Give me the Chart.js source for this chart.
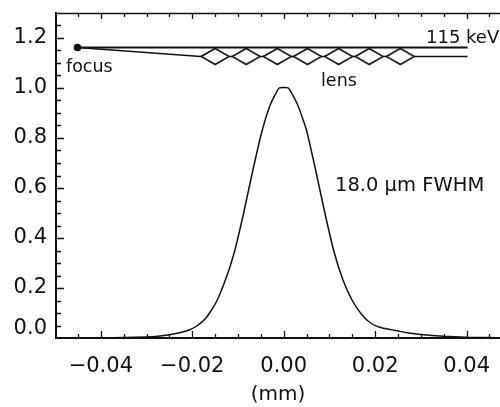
<!DOCTYPE html>
<html>
<head>
<meta charset="utf-8">
<script src="https://cdn.jsdelivr.net/npm/chart.js@4.4.1/dist/chart.umd.min.js"></script>
<style>
html,body{margin:0;padding:0;background:#fff;}
</style>
</head>
<body>
<canvas id="myChart" width="500" height="407"></canvas>
<script>
// focal spot profile, position in mm vs normalised intensity
let posMm=[-0.050,-0.040,-0.035,-0.030,-0.027,-0.025,-0.023,-0.021,-0.019,-0.017,-0.015,-0.013,-0.011,-0.009,-0.007,-0.005,-0.003,-0.001,
  0.001,0.003,0.005,0.007,0.009,0.011,0.013,0.015,0.017,0.019,0.021,0.023,0.025,0.027,0.030,0.035,0.040,0.047];
let intensity=[0.000,0.001,0.002,0.004,0.008,0.013,0.020,0.030,0.048,0.080,0.135,0.220,0.330,0.480,0.650,0.810,0.930,1.000,
  1.000,0.935,0.830,0.670,0.500,0.345,0.230,0.150,0.095,0.060,0.043,0.035,0.028,0.021,0.014,0.007,0.003,0.001];

// beam sketch above the profile
let beamX=[-0.0451,0.0402];
let beamY=[1.162,1.162];
let lensLineX=[-0.0451,-0.0181,0.0402];
let lensLineY=[1.162,1.126,1.126];
let lensX=[-0.0150,-0.0082,-0.0014,0.0052,0.0120,0.0187,0.0255];
let lensY=[1.126,1.126,1.126,1.126,1.126,1.126,1.126];
let focusX=[-0.0451];
let focusY=[1.162];

let xTicks=[-0.04,-0.02,0.00,0.02,0.04];
let yTicks=[0.0,0.2,0.4,0.6,0.8,1.0,1.2];

let ink='#111';
let tickFont={family:'"DejaVu Sans"',size:21};

function pts(xs,ys){return xs.map((x,i)=>({x:x,y:ys[i]}));}

// lens element drawn as a flat diamond
let lensImg=document.createElement('canvas');
lensImg.width=30; lensImg.height=19;
let lc=lensImg.getContext('2d');
lc.beginPath();
lc.moveTo(1,9.5); lc.lineTo(15,1.5); lc.lineTo(29,9.5); lc.lineTo(15,17.5); lc.closePath();
lc.fillStyle='#fff'; lc.fill();
lc.lineWidth=1.6; lc.strokeStyle=ink; lc.stroke();

let frame={
  id:'frame',
  afterDraw(chart){
    let ctx=chart.ctx, a=chart.chartArea;
    let xs=chart.scales.x, ys=chart.scales.y;
    ctx.save();
    ctx.strokeStyle=ink;
    ctx.lineWidth=1.5;
    ctx.beginPath();
    ctx.moveTo(a.left,a.top+0.5); ctx.lineTo(a.right,a.top+0.5);
    ctx.stroke();
    ctx.lineWidth=1.3;
    ctx.beginPath();
    for(let v=-0.045;v<0.047;v+=0.005){
      let px=Math.round(xs.getPixelForValue(v))+0.5;
      let major=xTicks.some(t=>Math.abs(t-v)<1e-6);
      ctx.moveTo(px,a.bottom); ctx.lineTo(px,a.bottom-(major?7:4));
      ctx.moveTo(px,a.top); ctx.lineTo(px,a.top+(major?6:4));
    }
    for(let v=0.05;v<1.3;v+=0.05){
      let py=Math.round(ys.getPixelForValue(v))+0.5;
      let major=yTicks.some(t=>Math.abs(t-v)<1e-6);
      ctx.moveTo(a.left,py); ctx.lineTo(a.left+(major?8:5),py);
    }
    ctx.stroke();

    ctx.fillStyle=ink;
    ctx.textBaseline='middle';
    ctx.textAlign='right';
    ctx.font='21px "DejaVu Sans"';
    ctx.fillText('0.0',a.left-9,ys.getPixelForValue(0)-9);

    ctx.textAlign='left';
    ctx.textBaseline='alphabetic';
    ctx.font='17.5px "DejaVu Sans"';
    ctx.fillText('focus',66,72);
    ctx.fillText('lens',321,86);
    ctx.font='18px "DejaVu Sans"';
    ctx.fillText('115 keV',426,43);
    ctx.font='19.5px "DejaVu Sans"';
    ctx.fillText('18.0 \u03bcm FWHM',335,191);
    ctx.restore();
  }
};

let myChart=document.getElementById('myChart').getContext('2d');

let profileChart=new Chart(myChart,{
  type:'scatter',
  data:{
    datasets:[
      {label:'lens',data:pts(lensX,lensY),pointStyle:lensImg,pointRadius:10,order:0},
      {label:'focus',data:pts(focusX,focusY),pointRadius:3.8,backgroundColor:ink,borderColor:ink,borderWidth:0,order:0},
      {label:'beam',data:pts(beamX,beamY),showLine:true,borderColor:ink,borderWidth:2,pointRadius:0,order:2},
      {label:'lens line',data:pts(lensLineX,lensLineY),showLine:true,borderColor:ink,borderWidth:1.6,pointRadius:0,order:2},
      {label:'profile',data:pts(posMm,intensity),showLine:true,borderColor:ink,borderWidth:1.5,pointRadius:0,tension:0.15,order:3}
    ]
  },
  options:{
    responsive:false,
    animation:false,
    devicePixelRatio:1,
    layout:{autoPadding:false,padding:{top:13,right:0,left:0,bottom:0}},
    plugins:{legend:{display:false},tooltip:{enabled:false}},
    scales:{
      x:{
        type:'linear',min:-0.0498,max:0.0473,
        grid:{display:false,drawTicks:false},
        border:{display:true,color:ink,width:2},
        afterBuildTicks(s){s.ticks=xTicks.map(v=>({value:v}));},
        afterFit(s){s.height=69;s.paddingLeft=0;s.paddingRight=0;},
        ticks:{color:ink,font:tickFont,padding:16,maxRotation:0,
          callback:v=>(v<-1e-9?'\u2212':'')+Math.abs(v).toFixed(2)},
        title:{display:true,text:'(mm)',color:ink,font:{family:'"DejaVu Sans"',size:20},padding:{top:0,bottom:0}}
      },
      y:{
        min:0,max:1.3,
        grid:{display:false,drawTicks:false},
        border:{display:true,color:ink,width:2},
        afterBuildTicks(s){s.ticks=yTicks.map(v=>({value:v}));},
        afterFit(s){s.width=56;s.paddingTop=0;s.paddingBottom=0;},
        ticks:{color:ink,font:tickFont,padding:9,
          callback:v=>Math.abs(v)<1e-9?'':v.toFixed(1)}
      }
    }
  },
  plugins:[frame]
});
</script>
</body>
</html>
